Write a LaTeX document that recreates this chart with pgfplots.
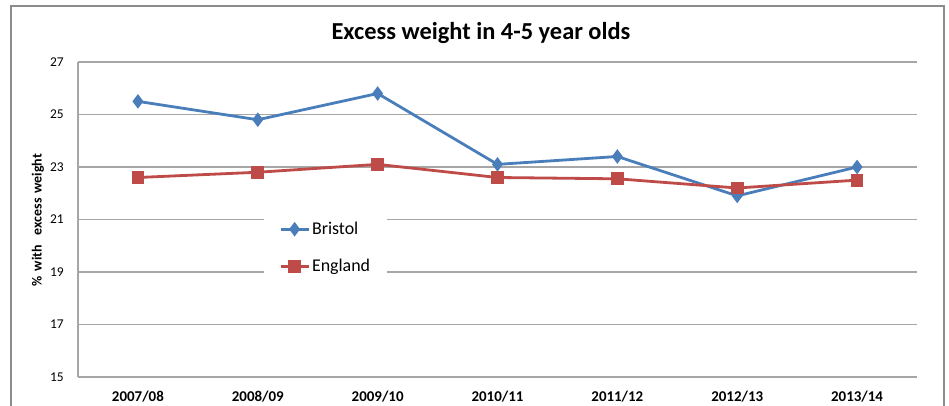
\documentclass[border=0pt]{standalone}
\usepackage{pgfplots}
\pgfplotsset{compat=1.18}
\usepackage{fontspec}
\setmainfont{Carlito}
\definecolor{bristol}{HTML}{4A7EBB}
\definecolor{england}{HTML}{BE4B48}
\definecolor{gridc}{HTML}{A6A6A6}
\definecolor{framec}{HTML}{8C8C8C}

\begin{document}
\begin{tikzpicture}[x=1bp,y=1bp]
\useasboundingbox (0,0) rectangle (949,405);
\draw[framec, line width=1.3bp] (11,-5) -- (11,399) -- (944,399) -- (944,-5);
\node[font=\fontsize{24.5}{28}\selectfont\bfseries] at (481,372) {Excess weight in 4-5 year olds};
\node[rotate=90, font=\fontsize{14}{16}\selectfont\bfseries] at (38,185) {\%\hspace{0.35em}with\hspace{0.7em}excess\hspace{0.35em}weight};
\begin{axis}[
  at={(78bp,28bp)}, anchor=south west,
  scale only axis, width=839bp, height=315bp,
  xmin=-0.5, xmax=6.5, ymin=15, ymax=27,
  xtick={0,...,6},
  xticklabels={2007/08,2008/09,2009/10,2010/11,2011/12,2012/13,2013/14},
  ytick={15,17,...,27},
  axis x line*=bottom, axis y line*=left,
  axis line style={gridc, line width=1.3bp, -},
  ymajorgrids, grid style={gridc, line width=1.3bp},
  major tick length=0pt,
  /pgf/number format/assume math mode=true,
  yticklabel style={font=\fontsize{13.5}{16}\selectfont, inner sep=0pt, anchor=east},
  yticklabel shift=14bp,
  xticklabel style={font=\fontsize{15}{18}\selectfont\bfseries, inner sep=0pt, anchor=center},
  xticklabel shift=20bp,
  legend style={at={(0.2217,0.53)}, anchor=north west, draw=none, fill=white,
    font=\fontsize{18}{21}\selectfont, row sep=19bp, inner xsep=15bp, inner ysep=10bp},
  legend cell align=left,
  legend image code/.code={\draw[mark repeat=2, mark phase=2, #1] plot coordinates {(0bp,0bp) (14bp,0bp) (28bp,0bp)};},
]
\addplot[bristol, line width=2.8bp, mark=diamond*, mark size=5bp, mark options={solid}] coordinates {
  (0,25.5) (1,24.8) (2,25.8) (3,23.1) (4,23.4) (5,21.9) (6,23.0)
};
\addlegendentry{Bristol}
\addplot[england, line width=2.8bp, mark=square*, mark size=5bp, mark options={solid}] coordinates {
  (0,22.6) (1,22.8) (2,23.1) (3,22.6) (4,22.55) (5,22.2) (6,22.5)
};
\addlegendentry{England}
\end{axis}
\end{tikzpicture}
\end{document}
